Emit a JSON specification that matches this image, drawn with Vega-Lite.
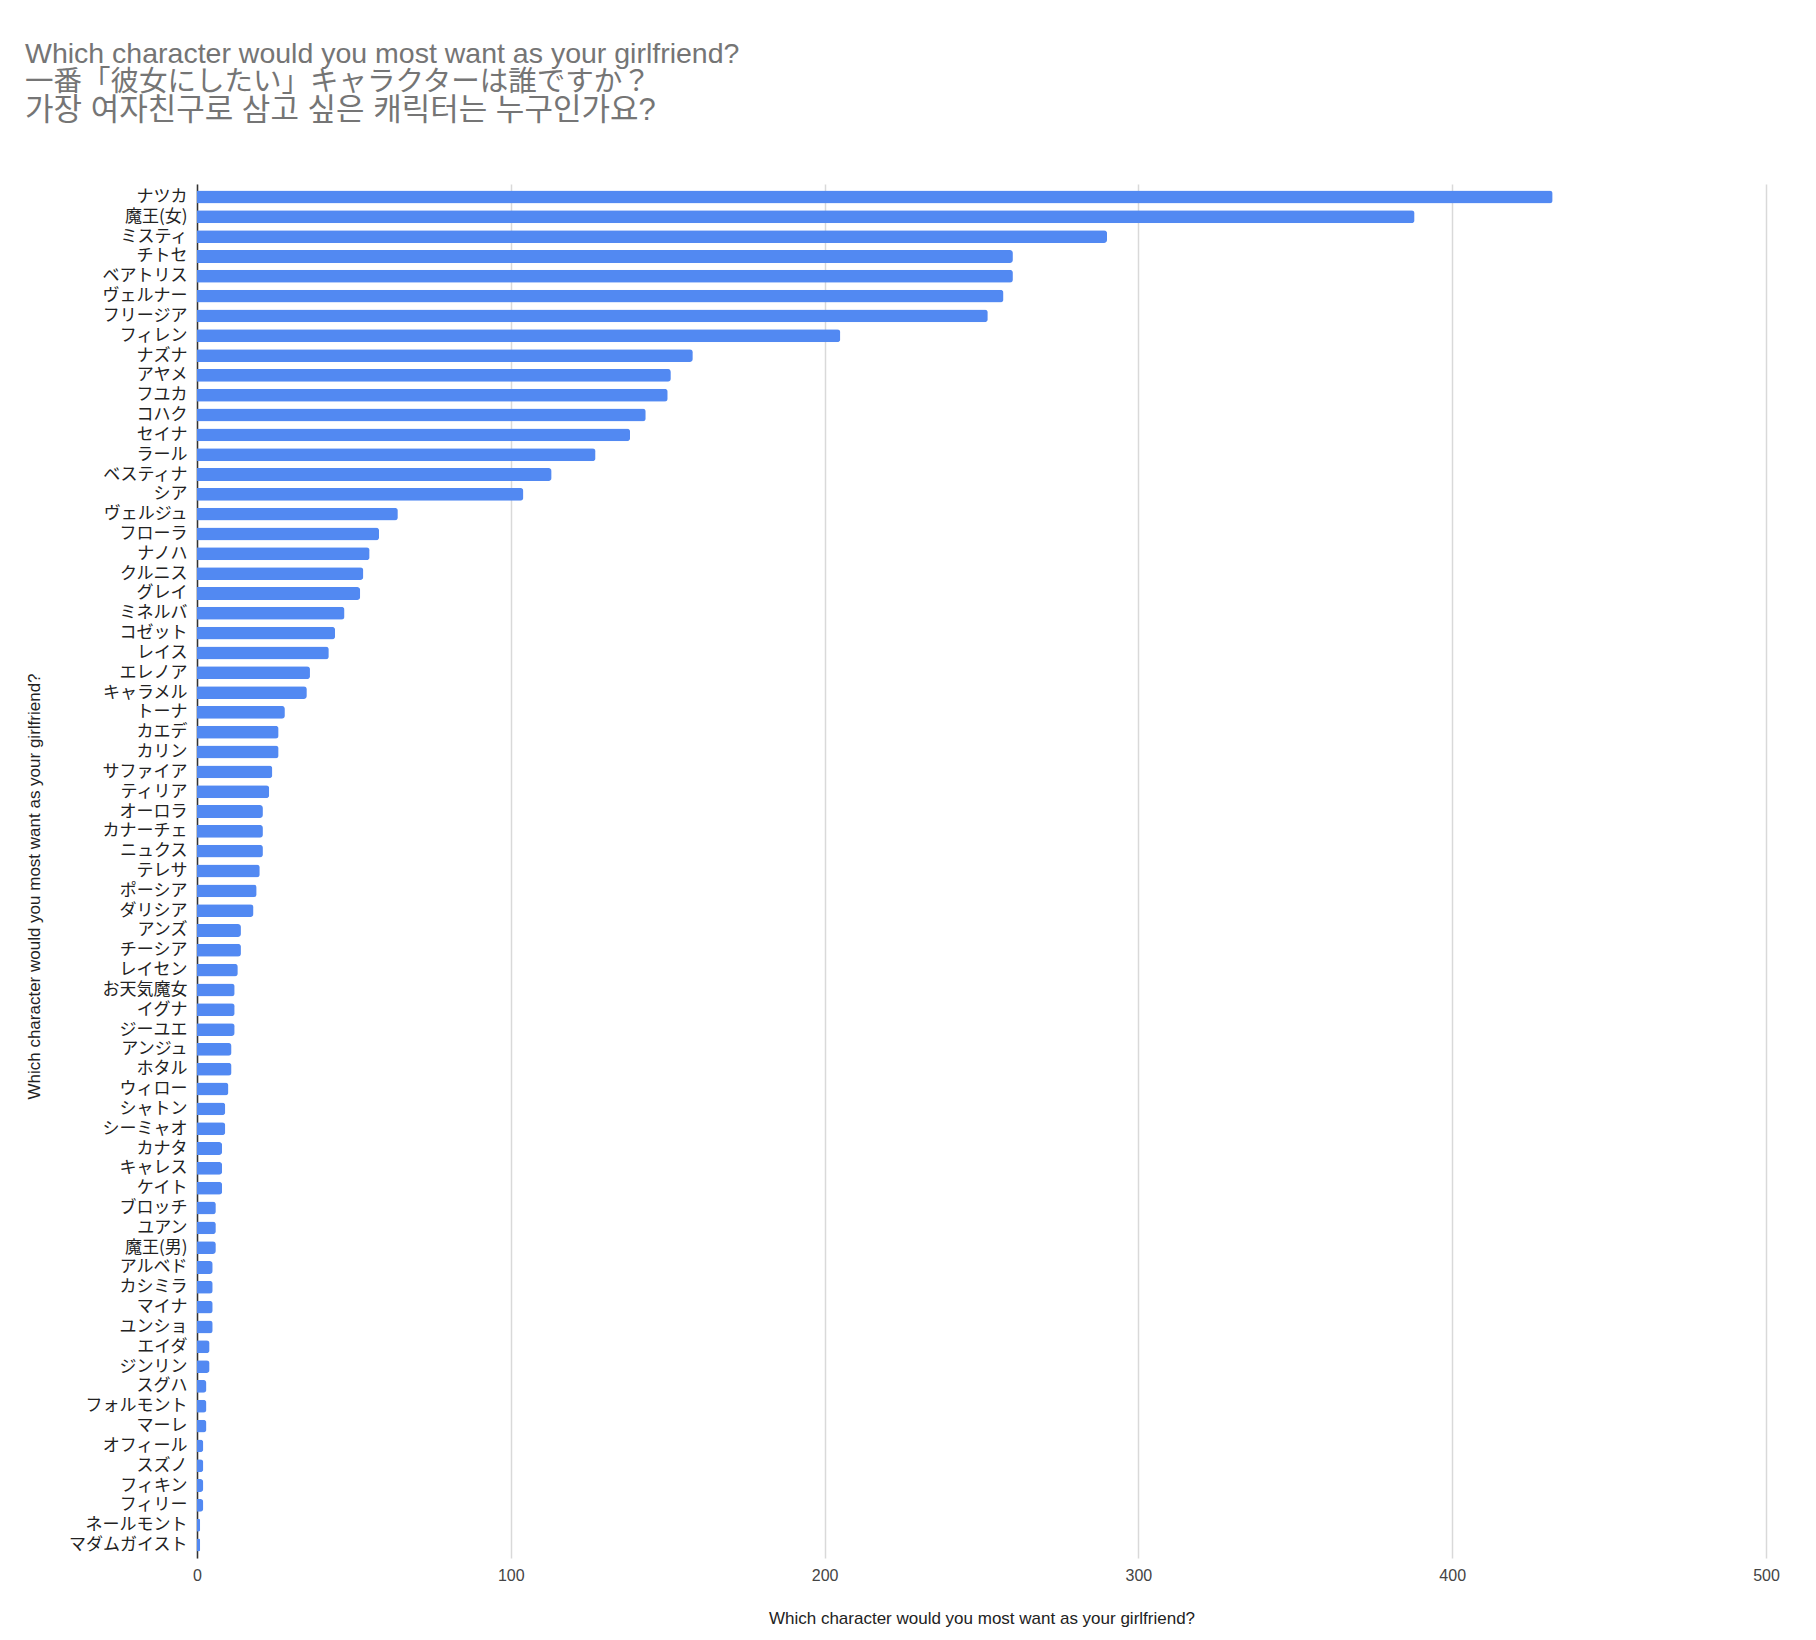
{
  "$schema": "https://vega.github.io/schema/vega-lite/v6.json",
  "width": 1569,
  "height": 1374,
  "autosize": {"type": "none"},
  "padding": {"left": 197, "top": 184, "right": 50, "bottom": 82},
  "background": "white",
  "title": {
    "text": ["Which character would you most want as your girlfriend?", "一番「彼女にしたい」キャラクターは誰ですか？"],
    "subtitle": "가장 여자친구로 삼고 싶은 캐릭터는 누구인가요?",
    "anchor": "start",
    "frame": "group",
    "dx": -172,
    "offset": 58,
    "fontSize": 28.5,
    "lineHeight": 28,
    "font": "Liberation Sans, Noto Sans CJK JP",
    "fontWeight": "normal",
    "color": "#757575",
    "subtitleFont": "Liberation Sans, Noto Sans CJK KR",
    "subtitleFontSize": 31,
    "subtitleLineHeight": 28,
    "subtitleColor": "#757575",
    "subtitlePadding": 0
  },
  "data": {
    "values": [
      {"character": "ナツカ", "votes": 432},
      {"character": "魔王(女)", "votes": 388},
      {"character": "ミスティ", "votes": 290},
      {"character": "チトセ", "votes": 260},
      {"character": "ベアトリス", "votes": 260},
      {"character": "ヴェルナー", "votes": 257},
      {"character": "フリージア", "votes": 252},
      {"character": "フィレン", "votes": 205},
      {"character": "ナズナ", "votes": 158},
      {"character": "アヤメ", "votes": 151},
      {"character": "フユカ", "votes": 150},
      {"character": "コハク", "votes": 143},
      {"character": "セイナ", "votes": 138},
      {"character": "ラール", "votes": 127},
      {"character": "ベスティナ", "votes": 113},
      {"character": "シア", "votes": 104},
      {"character": "ヴェルジュ", "votes": 64},
      {"character": "フローラ", "votes": 58},
      {"character": "ナノハ", "votes": 55},
      {"character": "クルニス", "votes": 53},
      {"character": "グレイ", "votes": 52},
      {"character": "ミネルバ", "votes": 47},
      {"character": "コゼット", "votes": 44},
      {"character": "レイス", "votes": 42},
      {"character": "エレノア", "votes": 36},
      {"character": "キャラメル", "votes": 35},
      {"character": "トーナ", "votes": 28},
      {"character": "カエデ", "votes": 26},
      {"character": "カリン", "votes": 26},
      {"character": "サファイア", "votes": 24},
      {"character": "ティリア", "votes": 23},
      {"character": "オーロラ", "votes": 21},
      {"character": "カナーチェ", "votes": 21},
      {"character": "ニュクス", "votes": 21},
      {"character": "テレサ", "votes": 20},
      {"character": "ポーシア", "votes": 19},
      {"character": "ダリシア", "votes": 18},
      {"character": "アンズ", "votes": 14},
      {"character": "チーシア", "votes": 14},
      {"character": "レイセン", "votes": 13},
      {"character": "お天気魔女", "votes": 12},
      {"character": "イグナ", "votes": 12},
      {"character": "ジーユエ", "votes": 12},
      {"character": "アンジュ", "votes": 11},
      {"character": "ホタル", "votes": 11},
      {"character": "ウィロー", "votes": 10},
      {"character": "シャトン", "votes": 9},
      {"character": "シーミャオ", "votes": 9},
      {"character": "カナタ", "votes": 8},
      {"character": "キャレス", "votes": 8},
      {"character": "ケイト", "votes": 8},
      {"character": "ブロッチ", "votes": 6},
      {"character": "ユアン", "votes": 6},
      {"character": "魔王(男)", "votes": 6},
      {"character": "アルベド", "votes": 5},
      {"character": "カシミラ", "votes": 5},
      {"character": "マイナ", "votes": 5},
      {"character": "ユンショ", "votes": 5},
      {"character": "エイダ", "votes": 4},
      {"character": "ジンリン", "votes": 4},
      {"character": "スグハ", "votes": 3},
      {"character": "フォルモント", "votes": 3},
      {"character": "マーレ", "votes": 3},
      {"character": "オフィール", "votes": 2},
      {"character": "スズノ", "votes": 2},
      {"character": "フィキン", "votes": 2},
      {"character": "フィリー", "votes": 2},
      {"character": "ネールモント", "votes": 1},
      {"character": "マダムガイスト", "votes": 1}
    ]
  },
  "mark": {"type": "bar", "color": "#5289f2", "cornerRadiusEnd": 3},
  "encoding": {
    "y": {
      "field": "character",
      "type": "nominal",
      "sort": null,
      "scale": {"paddingInner": 0.35, "paddingOuter": 0.33},
      "axis": {
        "title": "Which character would you most want as your girlfriend?",
        "titleFont": "Liberation Sans",
        "titleFontSize": 17,
        "titleFontWeight": "normal",
        "titleColor": "#222222",
        "titleY": 702,
        "titlePadding": 25,
        "domain": true,
        "domainColor": "#333333",
        "domainWidth": 1.5,
        "ticks": false,
        "grid": false,
        "labelFont": "Noto Sans CJK JP",
        "labelFontSize": 17,
        "labelColor": "#222222",
        "labelPadding": 10,
        "labelLimit": 0
      }
    },
    "x": {
      "field": "votes",
      "type": "quantitative",
      "scale": {"domain": [0, 500]},
      "axis": {
        "title": "Which character would you most want as your girlfriend?",
        "titleFont": "Liberation Sans",
        "titleFontSize": 17,
        "titleFontWeight": "normal",
        "titleColor": "#222222",
        "titlePadding": 27,
        "domain": false,
        "ticks": false,
        "grid": true,
        "gridColor": "#d9d9d9",
        "gridWidth": 1.5,
        "values": [0, 100, 200, 300, 400, 500],
        "format": "d",
        "labelFlush": false,
        "labelFont": "Liberation Sans",
        "labelFontSize": 16,
        "labelColor": "#444444",
        "labelPadding": 9
      }
    }
  },
  "config": {"view": {"stroke": null}}
}
